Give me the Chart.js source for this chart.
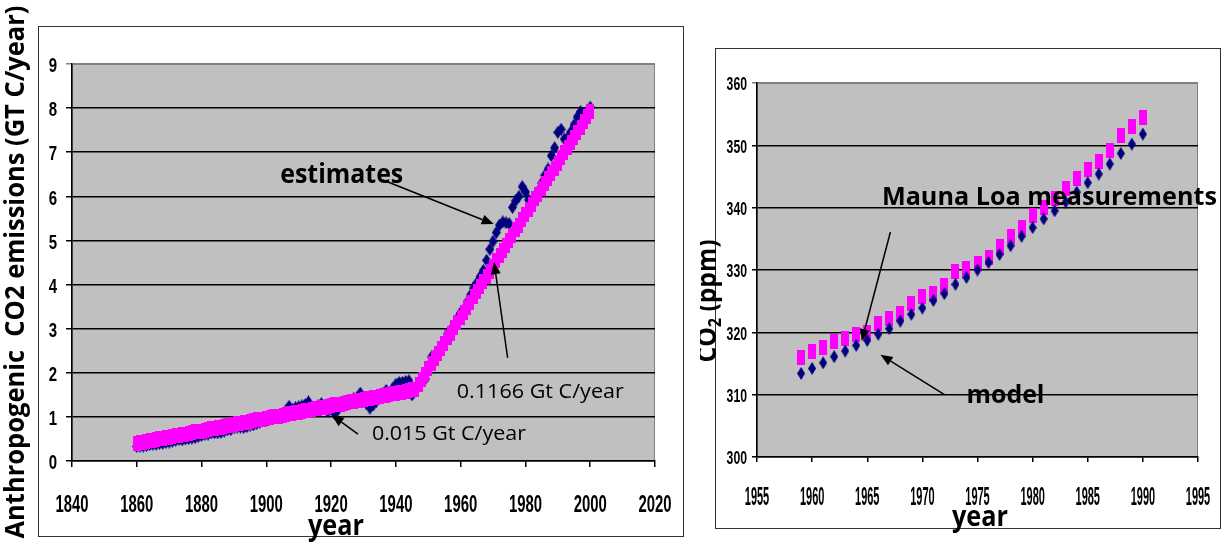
<!DOCTYPE html>
<html>
<head>
<meta charset="utf-8">
<title>CO2 emissions and Mauna Loa</title>
<script src="https://cdn.jsdelivr.net/npm/chart.js@4.4.1/dist/chart.umd.min.js"></script>
<style>
  body { margin: 0; background: #fff; width: 1225px; height: 544px; overflow: hidden; position: relative; }
  .box { position: absolute; border: 1px solid #333; }
  canvas { position: absolute; top: 0; }
</style>
</head>
<body>
<div class="box" style="left:38px; top:26px; width:644px; height:509px;"></div>
<div class="box" style="left:715px; top:48px; width:504px; height:479px;"></div>
<canvas id="emissions" width="690" height="544" style="left:0;"></canvas>
<canvas id="concentration" width="525" height="544" style="left:700px;"></canvas>
<script>
// ---- left chart: anthropogenic emissions (Gt C / year) ----
const emisYears = [
  1860, 1861, 1862, 1863, 1864, 1865, 1866, 1867, 1868, 1869,
  1870, 1871, 1872, 1873, 1874, 1875, 1876, 1877, 1878, 1879,
  1880, 1881, 1882, 1883, 1884, 1885, 1886, 1887, 1888, 1889,
  1890, 1891, 1892, 1893, 1894, 1895, 1896, 1897, 1898, 1899,
  1900, 1901, 1902, 1903, 1904, 1905, 1906, 1907, 1908, 1909,
  1910, 1911, 1912, 1913, 1914, 1915, 1916, 1917, 1918, 1919,
  1920, 1921, 1922, 1923, 1924, 1925, 1926, 1927, 1928, 1929,
  1930, 1931, 1932, 1933, 1934, 1935, 1936, 1937, 1938, 1939,
  1940, 1941, 1942, 1943, 1944, 1945, 1946, 1947, 1948, 1949,
  1950, 1951, 1952, 1953, 1954, 1955, 1956, 1957, 1958, 1959,
  1960, 1961, 1962, 1963, 1964, 1965, 1966, 1967, 1968, 1969,
  1970, 1971, 1972, 1973, 1974, 1975, 1976, 1977, 1978, 1979,
  1980, 1981, 1982, 1983, 1984, 1985, 1986, 1987, 1988, 1989,
  1990, 1991, 1992, 1993, 1994, 1995, 1996, 1997, 1998, 1999,
  2000
];
const emisEstimates = [
  0.33, 0.34, 0.34, 0.35, 0.37, 0.38, 0.38, 0.40, 0.40, 0.42,
  0.43, 0.45, 0.47, 0.49, 0.48, 0.50, 0.51, 0.52, 0.53, 0.56,
  0.58, 0.60, 0.61, 0.64, 0.64, 0.64, 0.65, 0.68, 0.71, 0.71,
  0.75, 0.77, 0.77, 0.76, 0.78, 0.81, 0.82, 0.85, 0.88, 0.93,
  0.96, 0.98, 1.00, 1.02, 1.02, 1.08, 1.14, 1.24, 1.17, 1.21,
  1.23, 1.25, 1.28, 1.34, 1.22, 1.20, 1.26, 1.30, 1.25, 1.12,
  1.24, 1.08, 1.15, 1.30, 1.30, 1.33, 1.32, 1.42, 1.43, 1.54,
  1.42, 1.30, 1.20, 1.27, 1.36, 1.42, 1.52, 1.60, 1.56, 1.64,
  1.74, 1.78, 1.78, 1.80, 1.82, 1.50, 1.62, 1.78, 1.88, 1.86,
  2.15, 2.36, 2.40, 2.48, 2.56, 2.72, 2.88, 2.98, 3.08, 3.24,
  3.36, 3.44, 3.60, 3.76, 3.92, 4.04, 4.18, 4.32, 4.55, 4.80,
  4.98, 5.18, 5.35, 5.42, 5.40, 5.38, 5.75, 5.90, 6.00, 6.22,
  6.10, 5.92, 5.88, 5.90, 6.12, 6.30, 6.48, 6.62, 6.92, 7.10,
  7.45, 7.52, 7.30, 7.32, 7.46, 7.62, 7.80, 7.92, 7.88, 7.85,
  8.02
];
const emisModel = [
  0.40, 0.41, 0.43, 0.44, 0.46, 0.47, 0.49, 0.50, 0.51, 0.53,
  0.54, 0.56, 0.57, 0.58, 0.60, 0.61, 0.63, 0.64, 0.66, 0.67,
  0.68, 0.70, 0.71, 0.73, 0.74, 0.76, 0.77, 0.78, 0.80, 0.81,
  0.83, 0.84, 0.85, 0.87, 0.88, 0.90, 0.91, 0.93, 0.94, 0.95,
  0.97, 0.98, 1.00, 1.01, 1.02, 1.04, 1.05, 1.07, 1.08, 1.10,
  1.11, 1.12, 1.14, 1.15, 1.17, 1.18, 1.20, 1.21, 1.22, 1.24,
  1.25, 1.27, 1.28, 1.29, 1.31, 1.32, 1.34, 1.35, 1.37, 1.38,
  1.39, 1.41, 1.42, 1.44, 1.45, 1.46, 1.48, 1.49, 1.51, 1.52,
  1.54, 1.55, 1.56, 1.58, 1.59, 1.61, 1.62, 1.74, 1.85, 1.97,
  2.09, 2.20, 2.32, 2.44, 2.55, 2.67, 2.79, 2.90, 3.02, 3.14,
  3.25, 3.37, 3.49, 3.60, 3.72, 3.84, 3.95, 4.07, 4.19, 4.30,
  4.42, 4.54, 4.65, 4.77, 4.89, 5.00, 5.12, 5.24, 5.35, 5.47,
  5.59, 5.70, 5.82, 5.94, 6.05, 6.17, 6.29, 6.40, 6.52, 6.64,
  6.75, 6.87, 6.99, 7.10, 7.22, 7.34, 7.45, 7.57, 7.69, 7.80,
  7.92
];
const emisYearTicks = [1840, 1860, 1880, 1900, 1920, 1940, 1960, 1980, 2000, 2020];
const emisValueTicks = [0, 1, 2, 3, 4, 5, 6, 7, 8, 9];

// ---- right chart: CO2 concentration (ppm) ----
const co2Years = [
  1959, 1960, 1961, 1962, 1963, 1964, 1965, 1966, 1967, 1968, 1969,
  1970, 1971, 1972, 1973, 1974, 1975, 1976, 1977, 1978, 1979,
  1980, 1981, 1982, 1983, 1984, 1985, 1986, 1987, 1988, 1989, 1990
];
const co2Model = [
  313.4, 314.2, 315.1, 316.1, 317.0, 317.9, 318.7, 319.7, 320.6, 321.8, 322.9,
  323.9, 325.1, 326.2, 327.7, 328.8, 330.0, 331.2, 332.5, 333.9, 335.4,
  336.8, 338.2, 339.5, 340.9, 342.5, 344.0, 345.4, 347.0, 348.7, 350.2, 351.8
];
const co2Measured = [
  316.0, 316.9, 317.6, 318.5, 319.0, 319.6, 320.0, 321.4, 322.2, 323.0, 324.6,
  325.7, 326.3, 327.5, 329.7, 330.2, 331.1, 332.0, 333.8, 335.4, 336.8,
  338.8, 340.1, 341.5, 343.1, 344.7, 346.1, 347.4, 349.2, 351.6, 353.1, 354.4
];
const co2YearTicks = [1955, 1960, 1965, 1970, 1975, 1980, 1985, 1990, 1995];
const co2ValueTicks = [300, 310, 320, 330, 340, 350, 360];

const TICK_FONT = "'Liberation Sans', Arial, sans-serif";
const TEXT_FONT = "'Open Sans', 'DejaVu Sans', sans-serif";

function pts(xs, ys) {
  return xs.map((x, i) => ({ x: x, y: ys[i] }));
}

// excel-like markers (taller than wide in the picture)
function rectMarker(w, h, color) {
  const c = document.createElement('canvas');
  c.width = w; c.height = h;
  const g = c.getContext('2d');
  g.fillStyle = color;
  g.fillRect(0, 0, w, h);
  return c;
}
function diamondMarker(w, h, color) {
  const c = document.createElement('canvas');
  c.width = w; c.height = h;
  const g = c.getContext('2d');
  g.fillStyle = color;
  g.beginPath();
  g.moveTo(w / 2, 0);
  g.lineTo(w, h / 2);
  g.lineTo(w / 2, h);
  g.lineTo(0, h / 2);
  g.closePath();
  g.fill();
  return c;
}

// text squeezed (or stretched) horizontally to a given width, like the condensed picture
function fitText(ctx, text, x, y, width, align) {
  const w = ctx.measureText(text).width;
  ctx.save();
  ctx.translate(x, y);
  ctx.scale(width / w, 1);
  ctx.textAlign = align || 'left';
  ctx.fillText(text, 0, 0);
  ctx.restore();
}

const plotBackground = {
  id: 'plotBackground',
  beforeDraw(chart) {
    const { ctx, chartArea: a } = chart;
    ctx.save();
    ctx.fillStyle = '#c0c0c0';
    ctx.fillRect(a.left, a.top, a.right - a.left, a.bottom - a.top);
    ctx.strokeStyle = '#808080';
    ctx.lineWidth = 1;
    ctx.strokeRect(a.left + 0.5, a.top + 0.5, a.right - a.left - 1, a.bottom - a.top - 1);
    ctx.restore();
  }
};

// tick labels drawn at the scale's own tick positions, in a narrow squeezed face
function tickLabels(o) {
  return {
    id: 'tickLabels',
    afterDraw(chart) {
      const ctx = chart.ctx, sx = chart.scales.x, sy = chart.scales.y;
      ctx.save();
      ctx.fillStyle = '#000';
      ctx.textBaseline = 'alphabetic';
      ctx.font = 'bold ' + o.xSize + 'px ' + TICK_FONT;
      sx.ticks.forEach(t => {
        ctx.save();
        ctx.translate(sx.getPixelForValue(t.value), o.xBase);
        ctx.scale(o.xSquash, 1);
        ctx.textAlign = 'center';
        ctx.fillText(String(t.value), 0, 0);
        ctx.restore();
      });
      ctx.font = 'bold ' + o.ySize + 'px ' + TICK_FONT;
      sy.ticks.forEach(t => {
        ctx.save();
        ctx.translate(o.yRight, sy.getPixelForValue(t.value) + o.ySize * 0.36 + 1);
        ctx.scale(o.ySquash, 1);
        ctx.textAlign = 'right';
        ctx.fillText(String(t.value), 0, 0);
        ctx.restore();
      });
      ctx.restore();
    }
  };
}

function drawArrow(ctx, x0, y0, x1, y1) {
  const ang = Math.atan2(y1 - y0, x1 - x0);
  const head = 12, half = 5;
  const c = Math.cos(ang), s = Math.sin(ang);
  ctx.beginPath();
  ctx.moveTo(x0, y0);
  ctx.lineTo(x1 - c * head, y1 - s * head);
  ctx.stroke();
  ctx.beginPath();
  ctx.moveTo(x1, y1);
  ctx.lineTo(x1 - c * head + s * half, y1 - s * head - c * half);
  ctx.lineTo(x1 - c * head - s * half, y1 - s * head + c * half);
  ctx.closePath();
  ctx.fill();
}

// labels and arrows are given in data units, titles in canvas pixels
function notesPlugin(notes) {
  return {
    id: 'notes',
    afterDraw(chart) {
      const ctx = chart.ctx, sx = chart.scales.x, sy = chart.scales.y;
      ctx.save();
      ctx.fillStyle = '#000';
      ctx.strokeStyle = '#000';
      ctx.lineWidth = 1.5;
      notes.arrows.forEach(a => drawArrow(ctx,
        sx.getPixelForValue(a[0]), sy.getPixelForValue(a[1]),
        sx.getPixelForValue(a[2]), sy.getPixelForValue(a[3])));
      ctx.textBaseline = 'alphabetic';
      notes.labels.forEach(l => {
        ctx.font = l.font;
        fitText(ctx, l.text, sx.getPixelForValue(l.x), sy.getPixelForValue(l.y), l.width);
      });
      notes.titles(ctx);
      ctx.restore();
    }
  };
}

function axes(xTicks, yTicks, o) {
  return {
    x: {
      type: 'linear',
      min: xTicks[0], max: xTicks[xTicks.length - 1],
      afterBuildTicks: s => { s.ticks = xTicks.map(v => ({ value: v })); },
      afterFit: s => { s.height = o.xHeight; },
      grid: { drawOnChartArea: false, drawTicks: true, tickLength: o.tick, color: '#000', lineWidth: 1.5 },
      border: { display: true, color: '#000', width: 1.5 },
      ticks: { display: false }
    },
    y: {
      type: 'linear',
      min: yTicks[0], max: yTicks[yTicks.length - 1],
      afterBuildTicks: s => { s.ticks = yTicks.map(v => ({ value: v })); },
      afterFit: s => { s.width = o.yWidth; },
      grid: {
        drawTicks: true, tickLength: o.tick, lineWidth: 1.5,
        color: c => (c.tick && c.tick.value === yTicks[yTicks.length - 1]) ? '#808080' : '#000'
      },
      border: { display: true, color: '#000', width: 1.5 },
      ticks: { display: false }
    }
  };
}

const common = {
  responsive: false,
  animation: false,
  devicePixelRatio: 1,
  plugins: { legend: { display: false }, tooltip: { enabled: false } }
};

new Chart(document.getElementById('emissions').getContext('2d'), {
  type: 'scatter',
  data: {
    datasets: [
      {
        label: 'model',
        data: pts(emisYears, emisModel),
        pointStyle: rectMarker(8, 15, '#ff00ff'),
        pointRadius: 4,
        order: 0
      },
      {
        label: 'estimates',
        data: pts(emisYears, emisEstimates),
        pointStyle: diamondMarker(9, 13, '#000080'),
        pointRadius: 4,
        order: 1
      }
    ]
  },
  options: Object.assign({}, common, {
    layout: { autoPadding: false, padding: { left: 0, top: 64, right: 35, bottom: 0 } },
    scales: axes(emisYearTicks, emisValueTicks, { xHeight: 83, yWidth: 72, tick: 6 })
  }),
  plugins: [
    plotBackground,
    tickLabels({ xSize: 24, xSquash: 0.62, xBase: 512, ySize: 20, ySquash: 0.75, yRight: 57 }),
    notesPlugin({
      labels: [
        { text: 'estimates', x: 1904.3, y: 6.30, width: 123, font: 'bold 26px ' + TEXT_FONT },
        { text: '0.1166 Gt C/year', x: 1958.8, y: 1.43, width: 167, font: '20px ' + TEXT_FONT },
        { text: '0.015 Gt C/year', x: 1932.6, y: 0.48, width: 154, font: '20px ' + TEXT_FONT }
      ],
      arrows: [
        [1936.0, 6.37, 1970.2, 5.37],
        [1974.5, 2.34, 1970.3, 4.51],
        [1928.3, 0.61, 1920.2, 1.04]
      ],
      titles(ctx) {
        ctx.font = 'bold 28px ' + TEXT_FONT;
        fitText(ctx, 'year', 336, 535, 56, 'center');
        ctx.save();
        ctx.translate(24, 272);
        ctx.rotate(-Math.PI / 2);
        ctx.font = 'bold 26px ' + TEXT_FONT;
        fitText(ctx, 'Anthropogenic  CO2 emissions (GT C/year)', 0, 0, 533, 'center');
        ctx.restore();
      }
    })
  ]
});

new Chart(document.getElementById('concentration').getContext('2d'), {
  type: 'scatter',
  data: {
    datasets: [
      {
        label: 'model',
        data: pts(co2Years, co2Model),
        pointStyle: diamondMarker(8, 13, '#000080'),
        pointRadius: 4,
        order: 0
      },
      {
        label: 'Mauna Loa measurements',
        data: pts(co2Years, co2Measured),
        pointStyle: rectMarker(8, 15, '#ff00ff'),
        pointRadius: 4,
        order: 1
      }
    ]
  },
  options: Object.assign({}, common, {
    layout: { autoPadding: false, padding: { left: 0, top: 83, right: 27, bottom: 0 } },
    scales: axes(co2YearTicks, co2ValueTicks, { xHeight: 87, yWidth: 57, tick: 5 })
  }),
  plugins: [
    plotBackground,
    tickLabels({ xSize: 25, xSquash: 0.44, xBase: 505, ySize: 18, ySquash: 0.68, yRight: 47 }),
    notesPlugin({
      labels: [
        { text: 'Mauna Loa measurements', x: 1966.33, y: 340.45, width: 335, font: 'bold 25px ' + TEXT_FONT },
        { text: 'model', x: 1974.0, y: 308.7, width: 78, font: 'bold 25px ' + TEXT_FONT }
      ],
      arrows: [
        [1967.1, 336.1, 1964.5, 318.6],
        [1972.0, 310.0, 1966.2, 316.4]
      ],
      titles(ctx) {
        ctx.font = 'bold 28px ' + TEXT_FONT;
        fitText(ctx, 'year', 280, 526, 56, 'center');
        // CO2 with subscript, rotated
        ctx.save();
        ctx.translate(16, 301);
        ctx.rotate(-Math.PI / 2);
        ctx.textAlign = 'left';
        const big = 'bold 26px ' + TEXT_FONT, small = 'bold 17px ' + TEXT_FONT;
        ctx.font = big;
        const w1 = ctx.measureText('CO').width, w3 = ctx.measureText(' (ppm)').width;
        ctx.font = small;
        const w2 = ctx.measureText('2').width;
        const k = 123 / (w1 + w2 + w3);
        ctx.scale(k, 1);
        const x = -(w1 + w2 + w3) / 2;
        ctx.font = big;
        ctx.fillText('CO', x, 0);
        ctx.font = small;
        ctx.fillText('2', x + w1, 5);
        ctx.font = big;
        ctx.fillText(' (ppm)', x + w1 + w2, 0);
        ctx.restore();
      }
    })
  ]
});
</script>
</body>
</html>
